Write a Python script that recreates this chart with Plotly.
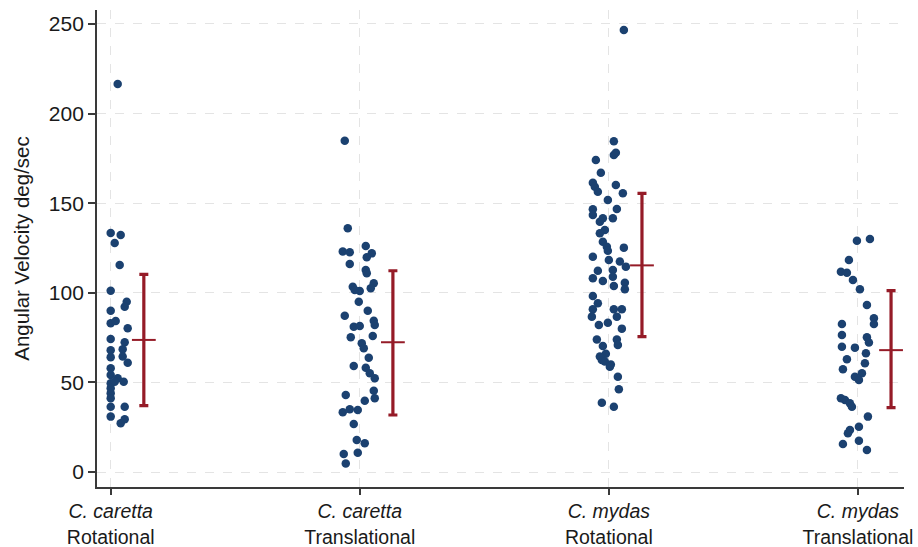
import plotly.graph_objects as go

# ---------------- data ----------------
categories = ["C. caretta", "C. caretta", "C. mydas", "C. mydas"]
conditions = ["Rotational", "Translational", "Rotational", "Translational"]
y_ticks = [0, 50, 100, 150, 200, 250]
y_title = "Angular Velocity deg/sec"

# angular velocity values per group
cc_rot_values = [216.5, 133.4, 132.3, 127.8, 115.5, 101.2, 95.0, 92.2, 90.0, 83.0,
                 84.3, 80.2, 74.2, 72.4, 68.0, 68.5, 64.0, 64.4, 61.0, 57.9,
                 54.1, 52.3, 50.4, 49.5, 50.4, 46.7, 43.9, 41.1, 36.4, 36.4,
                 30.9, 29.4, 27.2]
cc_rot_jitter = [7, 0, 10, 4, 9, 0, 16, 14, 0, 0,
                 5, 17, 0, 14, 0, 12, 0, 12, 17, 0,
                 0, 7, 13, 0, 4, 0, 0, 0, 0, 14,
                 0, 14, 10]

cc_tra_values = [184.9, 136.0, 123.0, 122.6, 126.1, 122.0, 119.8, 116.1, 112.7, 110.9,
                 103.4, 101.0, 101.6, 105.3, 102.5, 95.0, 87.2, 90.0, 84.4, 82.0,
                 81.1, 81.5, 75.2, 75.9, 71.8, 69.0, 63.8, 59.2, 58.2, 55.1,
                 52.3, 45.4, 41.1, 43.0, 39.8, 33.3, 35.0, 34.6, 26.8, 17.9,
                 16.0, 10.0, 10.8, 4.8]
cc_tra_jitter = [-15, -12, -17, -10, 6, 12, 7, -10, 6, 7,
                 -7, 0, -5, 14, 11, -1, -15, 8, 14, 15,
                 -6, 0, -9, 13, 2, 4, 9, -6, 6, 10,
                 15, 14, 15, -14, 5, -17, -10, -2, -6, -3,
                 5, -16, -2, -14]

cm_rot_values = [246.7, 184.5, 176.9, 178.2, 174.1, 167.0, 161.4, 159.2, 156.4, 160.2,
                 155.5, 151.8, 146.6, 146.8, 143.4, 141.6, 141.6, 139.7, 135.0, 133.2,
                 128.5, 125.7, 123.5, 125.2, 120.1, 118.3, 117.4, 114.6, 112.3, 112.7,
                 108.1, 106.6, 109.0, 105.6, 103.8, 102.0, 98.2, 94.1, 90.8, 90.8,
                 90.8, 86.7, 86.7, 82.0, 83.3, 80.0, 74.0, 74.0, 70.3, 70.9,
                 66.0, 62.5, 60.0, 64.4, 61.6, 58.8, 53.2, 46.2, 38.7, 36.4]
cm_rot_jitter = [15, 5, 5, 7, -13, -8, -16, -14, -11, 7,
                 14, -1, -16, 8, -16, -6, 4, -9, -4, -9,
                 -6, -2, -1, 15, -16, 0, 11, 17, -11, 4,
                 -16, -6, 4, 16, 5, 16, -16, -11, -16, 5,
                 13, -17, 8, -10, -1, 13, -12, 8, -6, 9,
                 -3, -7, 2, -9, -4, 1, 9, 10, -7, 5]

cm_tra_values = [129.1, 130.0, 118.3, 111.8, 111.2, 107.1, 102.0, 93.2, 85.8, 82.6,
                 82.6, 76.5, 75.2, 72.2, 69.9, 69.4, 66.2, 62.9, 60.7, 57.3,
                 55.1, 53.2, 51.3, 41.1, 40.2, 38.3, 36.4, 30.9, 25.3, 23.4,
                 21.6, 15.6, 17.5, 12.3]
cm_tra_jitter = [-1, 12, -9, -17, -11, -5, 2, 9, 16, 16,
                 -16, -16, 9, 11, -16, -3, 8, -11, 7, -15,
                 4, -3, 1, -17, -13, -8, -6, 10, 1, -8,
                 -10, -15, 1, 9]

# mean +/- SD shown by the red bars
err_mean = [73.7, 72.4, 115.3, 68.0]
err_low = [37.0, 31.8, 75.5, 35.9]
err_high = [110.3, 112.3, 155.5, 101.2]

# ---------------- figure ----------------
group_values = [cc_rot_values, cc_tra_values, cm_rot_values, cm_tra_values]
group_jitter = [cc_rot_jitter, cc_tra_jitter, cm_rot_jitter, cm_tra_jitter]
positions = [1, 2, 3, 4]
PX_PER_UNIT = 249.1          # horizontal pixels per category step
ERR_SHIFT = 0.133            # error bar sits to the right of each strip

DOT = "#1b4170"
RED = "#951b27"
FONT = "Liberation Sans, Arial, sans-serif"

fig = go.Figure()
for pos, vals, jit in zip(positions, group_values, group_jitter):
    fig.add_trace(go.Scatter(
        x=[pos + j / PX_PER_UNIT for j in jit], y=vals,
        mode="markers",
        marker=dict(color=DOT, size=8.5, line=dict(width=0)),
        showlegend=False, hoverinfo="y"))

fig.add_trace(go.Scatter(
    x=[p + ERR_SHIFT for p in positions], y=err_mean,
    mode="markers",
    marker=dict(symbol="line-ew", size=17, line=dict(color=RED, width=2)),
    error_y=dict(type="data", symmetric=False,
                 array=[h - m for h, m in zip(err_high, err_mean)],
                 arrayminus=[m - l for m, l in zip(err_mean, err_low)],
                 color=RED, thickness=3.2, width=4.5),
    showlegend=False, hoverinfo="y"))

tick_text = [f"<i>{c}</i><br>{k}" for c, k in zip(categories, conditions)]

fig.update_layout(
    width=918, height=547,
    margin=dict(l=97, r=14, t=10, b=60),
    paper_bgcolor="white", plot_bgcolor="white",
    font=dict(family=FONT, color="#1a1a1a", size=20),
    xaxis=dict(
        range=[0.945, 4.185], automargin=False,
        tickvals=positions, ticktext=tick_text,
        ticks="outside", ticklen=6, tickwidth=1.5, tickcolor="#3a3a3a",
        showline=True, linecolor="#3a3a3a", linewidth=1.8,
        showgrid=True, gridcolor="#e4e4e4", griddash="dash", gridwidth=1,
        zeroline=False, tickfont=dict(size=19.5, family=FONT, color="#1a1a1a"),
    ),
    yaxis=dict(
        range=[-8.37, 257.8], automargin=False,
        tickvals=y_ticks,
        ticks="outside", ticklen=7, tickwidth=1.5, tickcolor="#3a3a3a",
        showline=True, linecolor="#3a3a3a", linewidth=1.8,
        showgrid=True, gridcolor="#e4e4e4", griddash="dash", gridwidth=1,
        zeroline=False, tickfont=dict(size=21, family=FONT, color="#1a1a1a"),
        title=dict(text=y_title, font=dict(size=20.5, family=FONT, color="#1a1a1a"),
                   standoff=14),
    ),
)

fig.write_html(
    "out.html",
    config={"displayModeBar": False},
    post_script="document.body.style.margin='0';document.body.style.padding='0';",
)
